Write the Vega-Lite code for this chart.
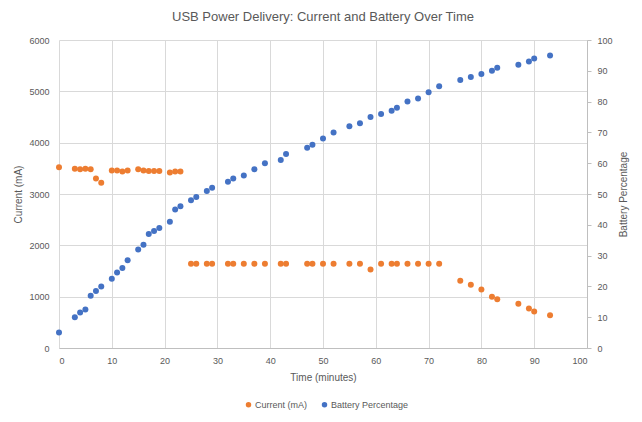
{
  "$schema": "https://vega.github.io/schema/vega-lite/v6.json",
  "description": "USB power delivery: charging current and battery level against time",
  "width": 528,
  "height": 308,
  "autosize": "none",
  "padding": {"left": 59, "top": 40, "right": 55, "bottom": 74},
  "background": "white",
  "title": {
    "text": "USB Power Delivery: Current and Battery Over Time",
    "anchor": "middle",
    "frame": "group",
    "offset": 12,
    "font": "Liberation Sans",
    "fontSize": 13,
    "fontWeight": "normal",
    "color": "#595959"
  },
  "data": {
    "values": [
      {"t": 0, "current": 3520, "battery": 5},
      {"t": 3, "current": 3490, "battery": 10},
      {"t": 4, "current": 3480, "battery": 11.5},
      {"t": 5, "current": 3490, "battery": 12.5},
      {"t": 6, "current": 3480, "battery": 17},
      {"t": 7, "current": 3300, "battery": 18.5},
      {"t": 8, "current": 3220, "battery": 20},
      {"t": 10, "current": 3460, "battery": 22.5},
      {"t": 11, "current": 3460, "battery": 24.5},
      {"t": 12, "current": 3440, "battery": 26},
      {"t": 13, "current": 3460, "battery": 28.5},
      {"t": 15, "current": 3480, "battery": 32},
      {"t": 16, "current": 3460, "battery": 33.5},
      {"t": 17, "current": 3450, "battery": 37},
      {"t": 18, "current": 3450, "battery": 38},
      {"t": 19, "current": 3450, "battery": 39},
      {"t": 21, "current": 3420, "battery": 41},
      {"t": 22, "current": 3440, "battery": 45},
      {"t": 23, "current": 3440, "battery": 46},
      {"t": 25, "current": 1640, "battery": 48},
      {"t": 26, "current": 1640, "battery": 49},
      {"t": 28, "current": 1640, "battery": 51},
      {"t": 29, "current": 1640, "battery": 52},
      {"t": 32, "current": 1640, "battery": 54},
      {"t": 33, "current": 1640, "battery": 55},
      {"t": 35, "current": 1640, "battery": 56},
      {"t": 37, "current": 1640, "battery": 58},
      {"t": 39, "current": 1640, "battery": 60},
      {"t": 42, "current": 1640, "battery": 61},
      {"t": 43, "current": 1640, "battery": 63},
      {"t": 47, "current": 1640, "battery": 65},
      {"t": 48, "current": 1640, "battery": 66},
      {"t": 50, "current": 1640, "battery": 68},
      {"t": 52, "current": 1640, "battery": 70},
      {"t": 55, "current": 1640, "battery": 72},
      {"t": 57, "current": 1640, "battery": 73},
      {"t": 59, "current": 1530, "battery": 75},
      {"t": 61, "current": 1640, "battery": 76},
      {"t": 63, "current": 1640, "battery": 77},
      {"t": 64, "current": 1640, "battery": 78},
      {"t": 66, "current": 1640, "battery": 80},
      {"t": 68, "current": 1640, "battery": 81},
      {"t": 70, "current": 1640, "battery": 83},
      {"t": 72, "current": 1640, "battery": 85},
      {"t": 76, "current": 1310, "battery": 87},
      {"t": 78, "current": 1230, "battery": 88},
      {"t": 80, "current": 1140, "battery": 89},
      {"t": 82, "current": 1000, "battery": 90},
      {"t": 83, "current": 950, "battery": 91},
      {"t": 87, "current": 860, "battery": 92},
      {"t": 89, "current": 770, "battery": 93},
      {"t": 90, "current": 710, "battery": 94},
      {"t": 93, "current": 640, "battery": 95}
    ]
  },
  "encoding": {
    "x": {
      "field": "t",
      "type": "quantitative",
      "scale": {"domain": [0, 100], "nice": false, "zero": true},
      "axis": {
        "title": "Time (minutes)",
        "values": [0, 10, 20, 30, 40, 50, 60, 70, 80, 90, 100],
        "format": "d",
        "grid": true,
        "ticks": false,
        "domain": true,
        "labelPadding": 8,
        "titlePadding": 7
      }
    }
  },
  "layer": [
    {
      "mark": {"type": "circle", "size": 36, "opacity": 1},
      "encoding": {
        "y": {
          "field": "current",
          "type": "quantitative",
          "scale": {"domain": [0, 6000], "nice": false},
          "axis": {
            "title": "Current (mA)",
            "orient": "left",
            "values": [0, 1000, 2000, 3000, 4000, 5000, 6000],
            "format": "d",
            "grid": true,
            "domain": false,
            "ticks": false,
            "labelPadding": 10,
            "titlePadding": 5
          }
        },
        "color": {"datum": "Current (mA)"}
      }
    },
    {
      "mark": {"type": "circle", "size": 36, "opacity": 1},
      "encoding": {
        "y": {
          "field": "battery",
          "type": "quantitative",
          "scale": {"domain": [0, 100], "nice": false},
          "axis": {
            "title": "Battery Percentage",
            "titleAngle": 270,
            "titleBaseline": "bottom",
            "orient": "right",
            "values": [0, 10, 20, 30, 40, 50, 60, 70, 80, 90, 100],
            "format": "d",
            "grid": false,
            "domain": true,
            "ticks": true,
            "tickSize": 4,
            "labelPadding": 6,
            "titlePadding": 16
          }
        },
        "color": {"datum": "Battery Percentage"}
      }
    }
  ],
  "resolve": {"scale": {"y": "independent"}},
  "config": {
    "view": {"stroke": null},
    "font": "Liberation Sans",
    "range": {"category": ["#ED7D31", "#4472C4"]},
    "axis": {
      "labelFont": "Liberation Sans",
      "labelFontSize": 9,
      "labelColor": "#595959",
      "titleFont": "Liberation Sans",
      "titleFontSize": 10,
      "titleFontWeight": "normal",
      "titleColor": "#595959",
      "gridColor": "#d9d9d9",
      "gridWidth": 1,
      "domainColor": "#bfbfbf",
      "tickColor": "#bfbfbf"
    },
    "legend": {
      "orient": "none",
      "legendX": 185,
      "legendY": 360,
      "direction": "horizontal",
      "title": null,
      "symbolType": "circle",
      "symbolSize": 30,
      "symbolStrokeWidth": 0,
      "labelFont": "Liberation Sans",
      "labelFontSize": 9,
      "labelColor": "#595959",
      "columnPadding": 12,
      "labelOffset": 2
    }
  }
}
